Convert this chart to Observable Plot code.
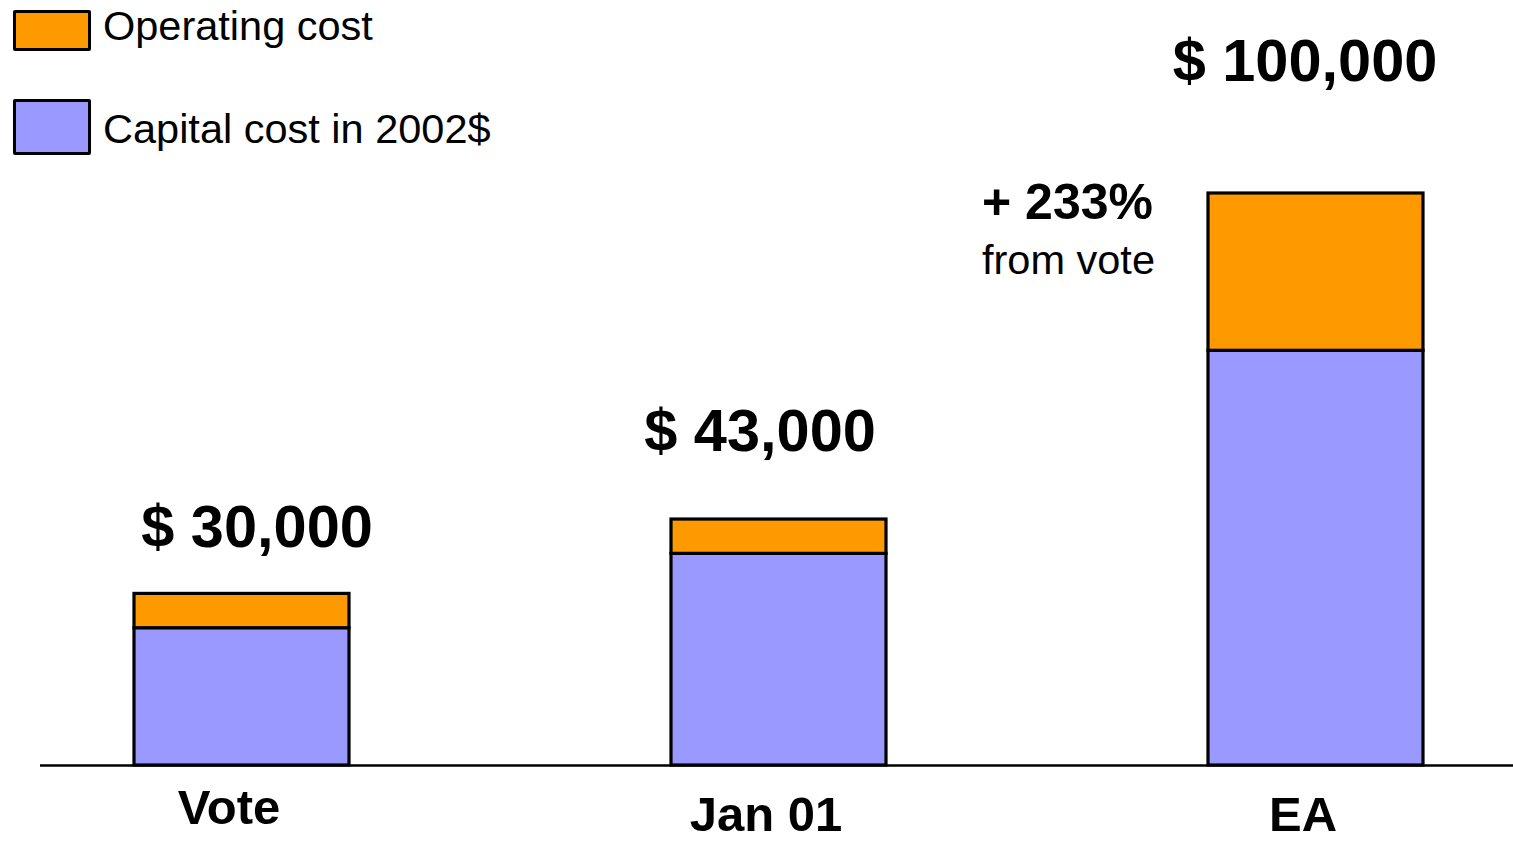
<!DOCTYPE html>
<html>
<head>
<meta charset="utf-8">
<script src="https://cdn.jsdelivr.net/npm/d3@7"></script>
<script src="https://cdn.jsdelivr.net/npm/@observablehq/plot@0.6"></script>
<style>
  html, body { margin: 0; padding: 0; background: #fff; }
  #wrap { position: relative; width: 1513px; height: 841px; font-family: "Liberation Sans", Arial, sans-serif; }
  .legend { position: absolute; left: 0; top: 0; }
  .sw { box-sizing: border-box; width: 78px; border: 3px solid #000; border-radius: 2px; position: absolute; left: 13px; }
  .lab { position: absolute; left: 103px; font-size: 41.5px; white-space: nowrap; color: #000; line-height: 46px; height: 46px; }
  #chart { position: absolute; left: 0; top: 0; }
</style>
</head>
<body>
<div id="wrap">
  <div id="chart"></div>
  <div class="legend" id="legend"></div>
</div>
<script>
const categories = ["Vote", "Jan 01", "EA"];
const capitalCost = [24000, 37000, 72500];
const operatingCost = [6000, 6000, 27500];
const totalLabels = ["$ 30,000", "$ 43,000", "$ 100,000"];
const seriesNames = ["Capital cost in 2002$", "Operating cost"];
const seriesColors = ["#9999FF", "#FF9900"];
const legendOrder = ["Operating cost", "Capital cost in 2002$"];
const changeLabel = "+ 233%";
const changeSub = "from vote";

const rows = [];
categories.forEach((c, i) => {
  rows.push({cat: c, series: seriesNames[0], value: capitalCost[i]});
  rows.push({cat: c, series: seriesNames[1], value: operatingCost[i]});
});
const totals = categories.map((c, i) => ({cat: c, total: capitalCost[i] + operatingCost[i], label: totalLabels[i]}));

const font = "Liberation Sans, Arial, sans-serif";
const labelDy = {"Vote": -47, "Jan 01": -69, "EA": -113};
const labelDx = {"Vote": 15, "Jan 01": -19, "EA": -11};

const marks = [
  Plot.barY(rows, {x: "cat", y: "value", fill: "series", order: seriesNames, stroke: "#000", strokeWidth: 3.2}),
  Plot.ruleY([0], {stroke: "#000", strokeWidth: 2.5})
];
totals.forEach(t => {
  marks.push(Plot.text([t], {x: "cat", y: "total", text: "label", fontSize: 59.5, fontWeight: "bold",
    fontFamily: font, fill: "#000", lineAnchor: "bottom", textAnchor: "middle", dy: labelDy[t.cat], dx: labelDx[t.cat]}));
});
marks.push(Plot.text([totals[2]], {x: "cat", y: "total", text: () => changeLabel, fontSize: 50, fontWeight: "bold",
  fontFamily: font, fill: "#000", lineAnchor: "bottom", textAnchor: "start", dx: -334, dy: 25}));
marks.push(Plot.text([totals[2]], {x: "cat", y: "total", text: () => changeSub, fontSize: 41.5,
  fontFamily: font, fill: "#000", lineAnchor: "bottom", textAnchor: "start", dx: -334, dy: 80}));
// category labels
marks.push(Plot.text(categories.filter(d => d === "Vote"), {x: d => d, y: () => 0, text: d => d,
  fontSize: 49, fontWeight: "bold", fontFamily: font, fill: "#000", lineAnchor: "bottom", textAnchor: "middle", dx: -13, dy: 58}));
marks.push(Plot.text(categories.filter(d => d !== "Vote"), {x: d => d, y: () => 0, text: d => d,
  fontSize: 49, fontWeight: "bold", fontFamily: font, fill: "#000", lineAnchor: "bottom", textAnchor: "middle", dx: -13, dy: 65}));

const chart = Plot.plot({
  width: 1513,
  height: 841,
  marginLeft: 40,
  marginRight: 0,
  marginTop: 193,
  marginBottom: 76,
  style: {background: "#fff", fontFamily: font, overflow: "visible"},
  x: {domain: categories, range: [43, 1513], paddingInner: 0.6, paddingOuter: 0.1674, axis: null},
  y: {domain: [0, 100000], axis: null},
  color: {domain: seriesNames, range: seriesColors},
  marks
});
document.getElementById("chart").appendChild(chart);

// legend
const legend = document.getElementById("legend");
const legendLayout = [{top: 10, h: 41, base: 40}, {top: 99, h: 56, base: 143}];
legendOrder.forEach((name, i) => {
  const L = legendLayout[i];
  const sw = document.createElement("div");
  sw.className = "sw";
  sw.style.top = L.top + "px";
  sw.style.height = L.h + "px";
  sw.style.background = seriesColors[seriesNames.indexOf(name)];
  legend.appendChild(sw);
  const t = document.createElement("div");
  t.className = "lab";
  t.textContent = name;
  t.style.top = (L.base - 37) + "px";
  legend.appendChild(t);
});
</script>
</body>
</html>
